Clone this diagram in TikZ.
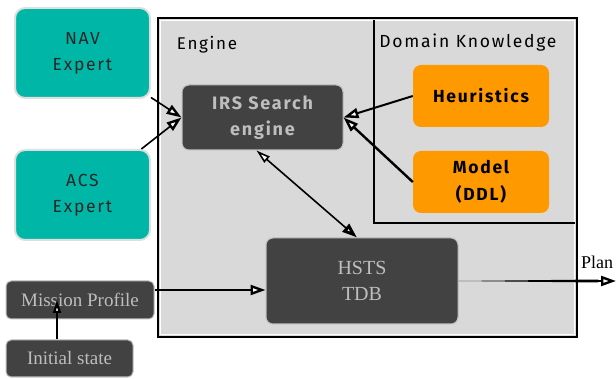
\documentclass[tikz,border=0pt]{standalone}
\usepackage{fontspec}
\setmainfont{Fira Sans}[LetterSpace=10]
\newfontfamily\serifc{Liberation Serif}
\usetikzlibrary{arrows.meta,calc}
\definecolor{tealbox}{RGB}{0,183,167}
\definecolor{orangebox}{RGB}{255,153,0}
\definecolor{darkbox}{RGB}{66,66,66}
\definecolor{paletext}{RGB}{190,190,190}
\definecolor{panelgray}{RGB}{217,217,217}
\tikzset{
  expert/.style={rectangle, rounded corners=10pt, fill=tealbox, draw=gray!25,
    line width=2pt, minimum width=135pt, minimum height=90pt, align=center,
    text=black!85, font=\fontsize{17.5}{26}\selectfont},
  darkbox/.style={rectangle, rounded corners=7pt, fill=darkbox, draw=gray!50,
    line width=1pt, text=paletext, align=center},
  know/.style={rectangle, rounded corners=8pt, fill=orangebox, minimum width=136pt,
    minimum height=62pt, align=center, font=\bfseries\fontsize{17.5}{27}\selectfont},
  label/.style={font=\fontsize{17}{19}\selectfont},
  arr/.style={line width=1.6pt, -{Triangle[fill=white, length=15pt, width=10pt, line width=2.4pt]}},
  smallarr/.style={line width=1.6pt, -{Triangle[fill=white, length=13pt, width=8pt, line width=2.2pt]}},
  biarr/.style={line width=1.6pt, {Triangle[fill=white, length=14pt, width=8pt, line width=1.6pt]}-{Triangle[fill=white, length=15pt, width=10pt, line width=3pt]}}
}
\begin{document}
\begin{tikzpicture}[x=1pt, y=-1pt]
\useasboundingbox (0,0) rectangle (616,379);

% engine panel
\node[rectangle, fill=panelgray, draw=black, line width=2pt, minimum width=419pt,
  minimum height=319pt, inner sep=0pt] (panel) at (367.5,177.5) {};
\draw[white, line width=0.8pt] (160.5,20.5) rectangle (574.5,334.5);

% domain knowledge frame
\draw[line width=2.4pt] (374,20) -- (374,223) -- (575,223);

\node[label] (englabel) at (207,45) {Engine};
\node[label, font=\fontsize{17.5}{19}\selectfont] (dklabel) at (468,43) {Domain Knowledge};

% experts
\node[expert] (nav) at (82.5,53) {NAV\\Expert};
\node[expert] (acs) at (82.5,195) {ACS\\Expert};

% engine components
\node[darkbox, minimum width=161pt, minimum height=65pt,
  font=\bfseries\fontsize{18}{26}\selectfont] (irs) at (262.5,117.5) {IRS Search\\engine};
\node[darkbox, minimum width=192pt, minimum height=86pt,
  font=\serifc\fontsize{20}{26}\selectfont] (hsts) at (362,281) {HSTS\\TDB};

% knowledge
\node[know] (heur) at (481,96) {Heuristics};
\node[know] (model) at (481,182) {Model\\(DDL)};

% inputs
\node[darkbox, minimum width=148pt, minimum height=38pt, rounded corners=5pt,
  font=\serifc\fontsize{19}{22}\selectfont] (mission) at (80,300) {Mission Profile};
\node[darkbox, minimum width=127pt, minimum height=37pt, rounded corners=5pt,
  font=\serifc\fontsize{19}{22}\selectfont] (initial) at (69.5,358.5) {Initial state};

% output
\coordinate (planend) at (616,281);
\node[font=\serifc\fontsize{18}{20}\selectfont, anchor=west, inner sep=0pt] (plan) at (581,262) {Plan};

% connectors
\draw[arr] (nav.-33) -- (irs.west);
\draw[arr] (acs.38) -- (irs.west);
\draw[arr, line width=2pt] (heur.west) -- (irs.east);
\draw[arr, line width=2.4pt] (model.west) -- (irs.east);
\draw[biarr] ([xshift=-6pt]irs.south) -- ([xshift=-5pt]hsts.north);
\draw[arr] ([yshift=10pt]mission.east) -- ([yshift=10pt]mission.east -| hsts.west);
\draw[smallarr] ([xshift=-12.5pt]initial.north) -- ([xshift=-23pt]mission.center);
\fill (hsts.east) -- ($(planend)+(-18,1.5)$) -- ($(planend)+(-18,-1.5)$) -- cycle;
\draw[arr] ($(planend)+(-20,0)$) -- (planend);
\end{tikzpicture}
\end{document}
